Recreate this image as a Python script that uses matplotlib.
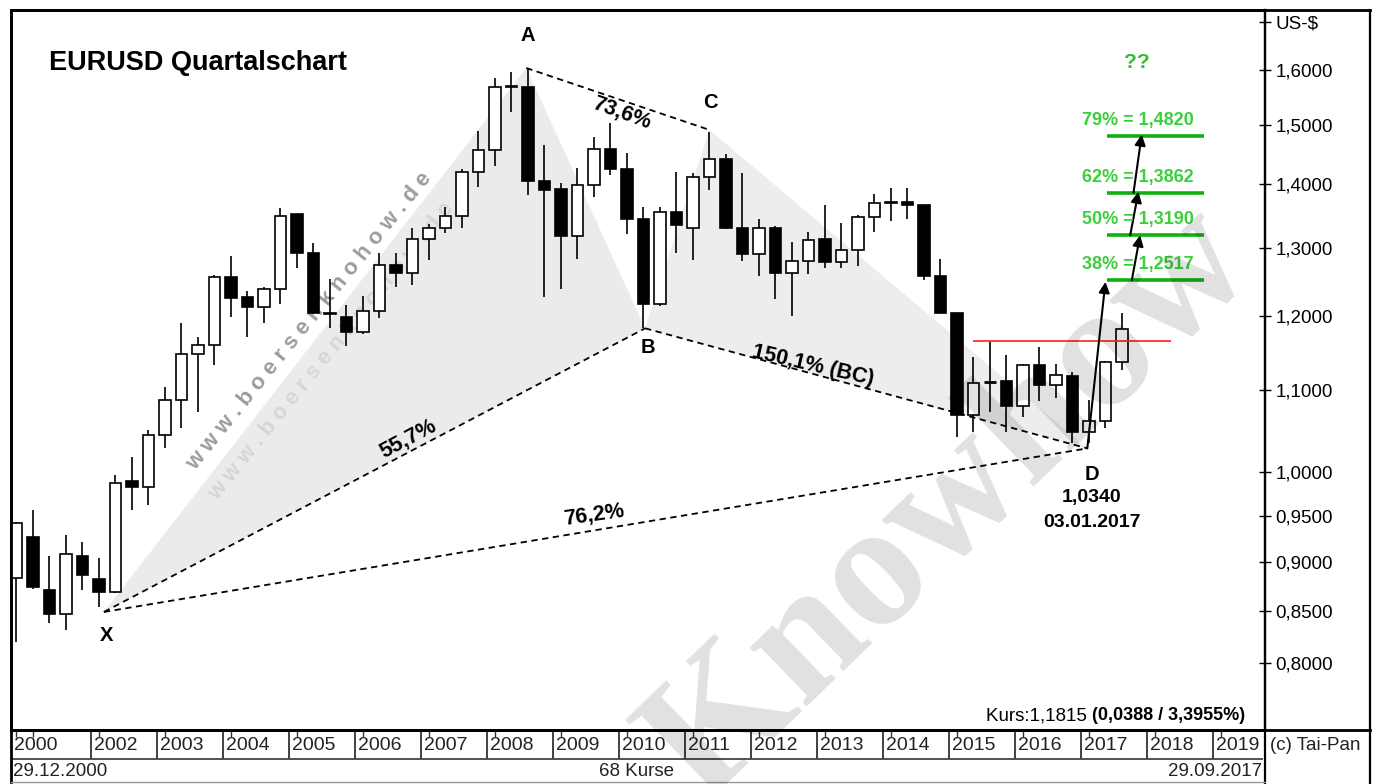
import numpy as np
import matplotlib
matplotlib.use("Agg")
import matplotlib.pyplot as plt
from matplotlib.lines import Line2D
from matplotlib.patches import Polygon
from matplotlib.ticker import NullLocator, NullFormatter

plt.rcParams['font.family'] = ['Liberation Sans', 'DejaVu Sans']

# ---------------- data (quarterly EURUSD, Q4 2000 .. Q3 2017) ----------------
quarters = list(range(68))  # 0 = Q4 2000
opens = [0.883, 0.927, 0.871, 0.847, 0.906, 0.882, 0.869, 0.990, 0.983, 1.044,
         1.088, 1.148, 1.160, 1.256, 1.227, 1.213, 1.239, 1.352, 1.292, 1.205,
         1.199, 1.178, 1.207, 1.274, 1.262, 1.313, 1.330, 1.349, 1.420, 1.458,
         1.568, 1.569, 1.406, 1.392, 1.318, 1.399, 1.459, 1.425, 1.344, 1.217,
         1.355, 1.330, 1.412, 1.442, 1.330, 1.291, 1.330, 1.262, 1.280, 1.313,
         1.279, 1.297, 1.347, 1.370, 1.372, 1.366, 1.258, 1.204, 1.069, 1.111,
         1.112, 1.080, 1.133, 1.107, 1.119, 1.048, 1.061, 1.137]
highs = [0.943, 0.956, 0.906, 0.929, 0.921, 0.904, 0.996, 1.018, 1.050, 1.104,
         1.191, 1.171, 1.259, 1.288, 1.236, 1.242, 1.362, 1.352, 1.307, 1.253,
         1.216, 1.228, 1.292, 1.292, 1.330, 1.337, 1.363, 1.425, 1.490, 1.586,
         1.596, 1.604, 1.466, 1.402, 1.427, 1.480, 1.504, 1.452, 1.363, 1.363,
         1.421, 1.418, 1.489, 1.450, 1.419, 1.344, 1.333, 1.308, 1.324, 1.366,
         1.338, 1.350, 1.384, 1.394, 1.394, 1.367, 1.283, 1.205, 1.144, 1.166,
         1.146, 1.135, 1.157, 1.135, 1.124, 1.088, 1.139, 1.204]
lows = [0.820, 0.872, 0.838, 0.831, 0.871, 0.854, 0.868, 0.956, 0.962, 1.028,
        1.053, 1.073, 1.133, 1.199, 1.171, 1.191, 1.217, 1.270, 1.203, 1.183,
        1.159, 1.175, 1.198, 1.242, 1.245, 1.281, 1.323, 1.331, 1.395, 1.430,
        1.523, 1.382, 1.227, 1.239, 1.283, 1.379, 1.415, 1.321, 1.184, 1.214,
        1.292, 1.281, 1.391, 1.328, 1.280, 1.258, 1.224, 1.200, 1.260, 1.270,
        1.270, 1.272, 1.324, 1.341, 1.344, 1.252, 1.204, 1.042, 1.048, 1.073,
        1.048, 1.066, 1.087, 1.090, 1.034, 1.034, 1.053, 1.127]
closes = [0.942, 0.8745, 0.847, 0.908, 0.886, 0.869, 0.987, 0.983, 1.044, 1.088,
          1.148, 1.160, 1.256, 1.226, 1.213, 1.239, 1.349, 1.292, 1.205, 1.203,
          1.178, 1.207, 1.274, 1.262, 1.313, 1.330, 1.349, 1.420, 1.458, 1.568,
          1.571, 1.405, 1.391, 1.318, 1.399, 1.459, 1.426, 1.344, 1.217, 1.355,
          1.335, 1.412, 1.442, 1.331, 1.291, 1.330, 1.262, 1.280, 1.312, 1.279,
          1.297, 1.347, 1.370, 1.372, 1.366, 1.258, 1.204, 1.069, 1.110, 1.112,
          1.080, 1.133, 1.107, 1.120, 1.048, 1.061, 1.137, 1.1815]

# harmonic pattern points X, A, B, C, D  (quarter index, price)
pattern_names = ['X', 'A', 'B', 'C', 'D']
pattern_idx = [5.3, 30.9, 38.1, 42.0, 64.9]
pattern_price = [0.849, 1.604, 1.183, 1.492, 1.028]

# Fibonacci targets
fib_levels = [1.2517, 1.3190, 1.3862, 1.4820]
fib_labels = ['38% = 1,2517', '50% = 1,3190', '62% = 1,3862', '79% = 1,4820']
fib_x_range = [66.1, 72.0]

# arrows (start idx, start price, end idx, end price)
arrow_x0 = [64.9, 67.6, 67.5, 67.7]
arrow_y0 = [1.028, 1.2517, 1.3190, 1.3862]
arrow_x1 = [66.0, 68.1, 68.0, 68.2]
arrow_y1 = [1.249, 1.319, 1.388, 1.484]

# red resistance line
red_level = 1.166
red_x_range = [58.0, 70.0]

ytick_values = [0.80, 0.85, 0.90, 0.95, 1.00, 1.10, 1.20, 1.30, 1.40, 1.50, 1.60]
usd_tick = 1.693
year_labels = [2002 + k for k in range(18)]

# ---------------- figure ----------------
W, H = 1376, 784
fig = plt.figure(figsize=(W / 100, H / 100), dpi=100)
fig.patch.set_facecolor('white')


def fx(x):
    return x / W


def fy(y):
    return 1 - y / H


ax = fig.add_axes([fx(11), fy(730), (1265 - 11) / W, (730 - 10) / H])
ax.set_yscale('log')
ax.set_ylim(0.7395, 1.7166)
ax.set_xlim(-0.33, 75.67)
ax.set_facecolor('white')


def px2data(x, y):
    return x / 16.5 - 1, float(np.exp((472 - y) / 855))


# shaded triangles
tri1 = Polygon([(pattern_idx[0], pattern_price[0]), (pattern_idx[1], pattern_price[1]),
                (pattern_idx[2], pattern_price[2])], closed=True, facecolor='#ebebeb',
               edgecolor='none', zorder=0.5)
tri2 = Polygon([(pattern_idx[2], pattern_price[2]), (pattern_idx[3], pattern_price[3]),
                (pattern_idx[4], pattern_price[4])], closed=True, facecolor='#ededed',
               edgecolor='none', zorder=0.5)
ax.add_patch(tri1)
ax.add_patch(tri2)

# watermark www.boersenknohow.de
wm = " ".join("www.boersenknohow.de")
x0, y0 = px2data(309, 321)
ax.text(x0, y0, wm, rotation=51, ha='center', va='center', rotation_mode='anchor',
        fontsize=16, fontweight='bold', color='#9c9c9c', zorder=0.8)
x0, y0 = px2data(331, 351)
ax.text(x0, y0, wm, rotation=51, ha='center', va='center', rotation_mode='anchor',
        fontsize=16, fontweight='bold', color='#d6d6d6', zorder=0.8)

# candles
bw = 0.68
for i, o, h, l, c in zip(quarters, opens, highs, lows, closes):
    ax.vlines(i, l, h, color='black', lw=1.2, zorder=2)
    lo, hi = min(o, c), max(o, c)
    if hi - lo < 0.002:
        ax.hlines((o + c) / 2, i - bw / 2, i + bw / 2, color='black', lw=2.0, zorder=3)
        continue
    fc = 'black' if c < o else 'white'
    ax.bar(i, hi - lo, bottom=lo, width=bw, color=fc, edgecolor='black', lw=1.2, zorder=3)

# pattern dashed lines: XB, AC, BD, XD
dash = (0, (3.5, 2.5))
for a, b in [(0, 2), (1, 3), (2, 4), (0, 4)]:
    ax.plot([pattern_idx[a], pattern_idx[b]], [pattern_price[a], pattern_price[b]],
            color='black', lw=1.3, linestyle=dash, zorder=4)

# red line
ax.hlines(red_level, red_x_range[0], red_x_range[1], color='#ff3030', lw=1.3, zorder=4)

# fib lines
for lv in fib_levels:
    ax.hlines(lv, fib_x_range[0], fib_x_range[1], color='#10b010', lw=2.6, zorder=4)

# arrows
for a0, b0, a1, b1 in zip(arrow_x0, arrow_y0, arrow_x1, arrow_y1):
    ax.annotate('', xy=(a1, b1), xytext=(a0, b0),
                arrowprops=dict(arrowstyle='-|>', color='black', lw=1.5,
                                mutation_scale=16, shrinkA=0, shrinkB=0), zorder=5)

# point labels
lab_px = {'X': (107, 636), 'A': (528, 36), 'B': (648, 348), 'C': (710, 103), 'D': (1092, 475)}
for n in pattern_names:
    x, y = px2data(*lab_px[n])
    ax.text(x, y, n, ha='center', va='center', fontsize=14.5, fontweight='bold', zorder=6)
x, y = px2data(1092, 498)
ax.text(x, y, '1,0340', ha='center', va='center', fontsize=14, fontweight='bold', zorder=6)
x, y = px2data(1092, 523)
ax.text(x, y, '03.01.2017', ha='center', va='center', fontsize=14, fontweight='bold', zorder=6)

# ratio labels
for txt, (px_, py_), rot in [('55,7%', (408, 439), 28), ('73,6%', (622, 113), -20),
                             ('150,1% (BC)', (813, 366), -13), ('76,2%', (594, 515), 8)]:
    x, y = px2data(px_, py_)
    ax.text(x, y, txt, ha='center', va='center', rotation=rot, rotation_mode='anchor',
            fontsize=15.5, fontweight='bold', zorder=6)

# fib labels
for lv, lb in zip(fib_levels, fib_labels):
    x, _ = px2data(1138, 0)
    ax.annotate(lb, xy=(x, lv), xytext=(0, 11), textcoords='offset points',
                ha='center', va='center', fontsize=13, fontweight='bold',
                color='#3ccf3c', zorder=6)
x, y = px2data(1137, 63)
ax.text(x, y, '??', ha='center', va='center', fontsize=15, fontweight='bold',
        color='#2fbf2f', zorder=6)

# Kurs text
fig.canvas.draw()
r = fig.canvas.get_renderer()
tb = fig.text(fx(1245), fy(716), '(0,0388 / 3,3955%)', ha='right', va='center',
              fontsize=13, fontweight='bold')
wb = tb.get_window_extent(renderer=r).width
fig.text(fx(1245 - wb), fy(716), 'Kurs:1,1815 ', ha='right', va='center', fontsize=13.5)

# title
fig.text(fx(49), fy(63), 'EURUSD Quartalschart', fontsize=19.5, fontweight='bold',
         va='center', ha='left')

# y axis
ax.yaxis.tick_right()
ax.yaxis.set_minor_locator(NullLocator())
ax.yaxis.set_minor_formatter(NullFormatter())
ax.set_yticks(ytick_values + [usd_tick])
ax.set_yticklabels([f"{v:.4f}".replace('.', ',') for v in ytick_values] + ['US-$'])
ax.tick_params(axis='y', which='major', direction='inout', length=9, width=1.0,
               labelsize=13.5, pad=3)
ax.set_xticks([])
for s in ['top', 'left', 'bottom']:
    ax.spines[s].set_linewidth(2.0)
ax.spines['right'].set_linewidth(1.6)

# footer axes
fax = fig.add_axes([fx(11), 0, (1265 - 11) / W, (784 - 730) / H])
fax.set_xlim(-0.33, 75.67)
fax.set_ylim(54, 0)
fax.axis('off')
for yr in year_labels:
    qi = 4 * (yr - 2001) + 1
    fax.vlines(qi - 0.5, 0, 29, color='#333333', lw=1.3)
    fax.vlines(qi, 0, 7, color='#333333', lw=1.0)
    fax.text(qi - 0.32, 15, str(yr), ha='left', va='center', fontsize=14, color='#222222')
fax.vlines([0, 1], 0, 7, color='#333333', lw=1.0)
fax.text(-0.15, 15, '2000', ha='left', va='center', fontsize=14, color='#222222')
fax.hlines(29, -0.33, 75.55, color='#444444', lw=1.3)
fax.text(-0.2, 41, '29.12.2000', ha='left', va='center', fontsize=13.5, color='#222222')
fax.text(37.6, 41, '68 Kurse', ha='center', va='center', fontsize=13.5, color='#222222')
fax.text(75.5, 41, '29.09.2017', ha='right', va='center', fontsize=13.5, color='#222222')

# frame lines in figure coordinates
def fline(x0, y0, x1, y1, lw, c='black'):
    fig.add_artist(Line2D([fx(x0), fx(x1)], [fy(y0), fy(y1)], color=c, lw=lw))

fline(11, 10, 1370, 10, 2.0)
fline(11, 730, 1370, 730, 2.0)
fline(11, 10, 11, 782, 2.0)
fline(1265, 10, 1265, 784, 1.6)
fline(1370, 10, 1370, 784, 1.6)
fline(11, 782, 1265, 782, 1.0, '#999999')
fig.text(fx(1270), fy(745), '(c) Tai-Pan', ha='left', va='center', fontsize=13.5,
         color='#222222')

# big watermark
fig.text(fx(951), fy(505), 'Knowhow', fontsize=128, family=['Liberation Serif', 'DejaVu Serif'],
         fontweight='bold', rotation=44, ha='center', va='center', rotation_mode='anchor',
         color='black', alpha=0.12, zorder=20)

fig.savefig('out.png', dpi=100)
